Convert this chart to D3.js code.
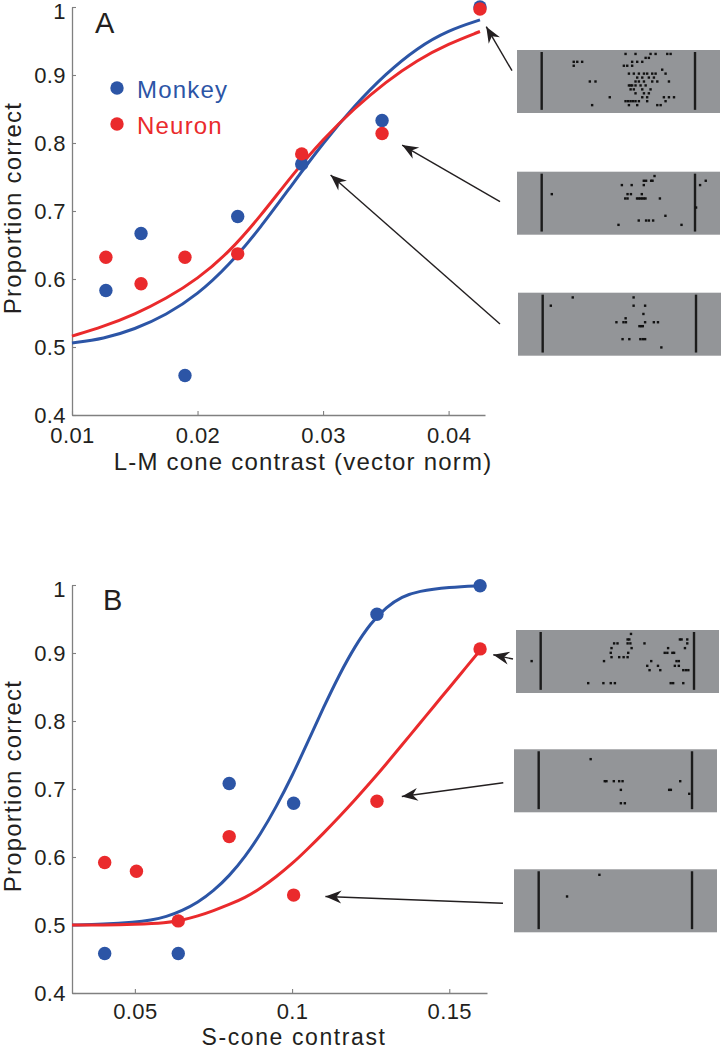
<!DOCTYPE html>
<html>
<head>
<meta charset="utf-8">
<script src="https://cdn.jsdelivr.net/npm/d3@7"></script>
<style>
  body { margin: 0; background: #fff; }
  svg { display: block; font-family: "Liberation Sans", Arial, Helvetica, sans-serif; }
</style>
</head>
<body>
<div class="canvas"></div>
<script>
// ---------- data ----------
// panel A : L-M cone contrast
const lmContrast = [0.0127, 0.0155, 0.0190, 0.0232, 0.0283, 0.0347, 0.0425];
const lmMonkey = [0.583, 0.667, 0.458, 0.692, 0.769, 0.833, 1.0];
const lmNeuron = [0.632, 0.593, 0.632, 0.637, 0.784, 0.814, 0.997];

// fitted curves
const lmFitX = [0.010, 0.0125, 0.015, 0.0175, 0.020, 0.0225, 0.025, 0.0275, 0.030, 0.0325, 0.035, 0.0375, 0.040, 0.0425];
const lmFitMonkey = [0.506, 0.512, 0.526, 0.547, 0.577, 0.620, 0.675, 0.738, 0.800, 0.855, 0.902, 0.940, 0.966, 0.981];
const lmFitNeuron = [0.516, 0.530, 0.548, 0.571, 0.600, 0.639, 0.692, 0.752, 0.806, 0.851, 0.890, 0.922, 0.946, 0.964];

// panel B : S-cone contrast
const sContrastMonkey = [0.0404, 0.0638, 0.0800, 0.1005, 0.1270, 0.1598];
const sMonkey = [0.458, 0.458, 0.708, 0.679, 0.957, 0.999];
const sContrastNeuron = [0.0404, 0.0505, 0.0638, 0.0800, 0.1005, 0.1270, 0.1598];
const sNeuron = [0.592, 0.579, 0.506, 0.630, 0.544, 0.682, 0.906];

const sFitX = [0.030, 0.040, 0.050, 0.055, 0.060, 0.065, 0.070, 0.075, 0.080, 0.085, 0.090, 0.095, 0.100, 0.105, 0.110, 0.115, 0.120, 0.125, 0.130, 0.135, 0.140, 0.150, 0.160];
const sFitMonkey = [0.500, 0.501, 0.504, 0.507, 0.512, 0.521, 0.533, 0.550, 0.572, 0.600, 0.634, 0.674, 0.719, 0.769, 0.820, 0.868, 0.910, 0.944, 0.968, 0.983, 0.991, 0.997, 0.999];
const sFitNeuronX = [0.030, 0.040, 0.050, 0.060, 0.065, 0.070, 0.075, 0.080, 0.085, 0.090, 0.095, 0.100, 0.105, 0.110, 0.115, 0.120, 0.125, 0.130, 0.135, 0.140, 0.145, 0.150, 0.155, 0.160];
const sFitNeuron = [0.500, 0.500, 0.501, 0.503, 0.507, 0.513, 0.521, 0.530, 0.540, 0.554, 0.571, 0.590, 0.612, 0.635, 0.659, 0.684, 0.710, 0.737, 0.765, 0.793, 0.821, 0.849, 0.877, 0.905];

// ticks
const yTicks = [0.4, 0.5, 0.6, 0.7, 0.8, 0.9, 1];
const yTickLabels = ["0.4", "0.5", "0.6", "0.7", "0.8", "0.9", "1"];
const lmTicks = [0.01, 0.02, 0.03, 0.04];
const lmTickLabels = ["0.01", "0.02", "0.03", "0.04"];
const sTicks = [0.05, 0.1, 0.15];
const sTickLabels = ["0.05", "0.1", "0.15"];

const legendLabels = ["Monkey", "Neuron"];

// arrow tips (data coords of each panel)
const lmArrowTips = [[0.0430, 0.971], [0.0363, 0.797], [0.0306, 0.753]];
const sArrowTips = [[0.1640, 0.8975], [0.1349, 0.689], [0.1106, 0.542]];

// spike rasters: [time (0 = first bar, 1 = second bar), trial]
const rasterA1 = [
  [0.547,1],[0.612,1],[0.710,1],[0.743,1],[0.819,1],[0.841,1],
  [0.678,2],[0.699,2],
  [0.209,3],[0.232,3],[0.264,3],[0.590,3],[0.623,3],[0.656,3],
  [0.209,4],[0.536,4],[0.558,4],[0.590,4],
  [0.786,5],
  [0.569,6],[0.601,6],[0.634,6],[0.667,6],[0.688,6],[0.721,6],[0.743,6],[0.808,6],
  [0.623,7],[0.656,7],[0.699,7],[0.732,7],
  [0.314,8],[0.351,8],[0.612,8],[0.634,8],[0.667,8],[0.721,8],[0.754,8],[0.830,8],
  [0.569,9],[0.580,9],[0.590,9],[0.612,9],[0.645,9],[0.678,9],
  [0.580,10],[0.601,10],[0.656,10],[0.710,10],
  [0.612,11],[0.667,11],[0.699,11],
  [0.444,12],[0.656,12],[0.688,12],[0.797,12],[0.830,12],[0.863,12],
  [0.547,13],[0.564,13],[0.580,13],[0.596,13],[0.612,13],[0.634,13],[0.688,13],[0.808,13],
  [0.329,14],[0.569,14],[0.623,14],[0.754,14],[0.776,14]
];
const rasterA2 = [
  [0.736,1.1],
  [0.666,2.3],[0.681,2.3],[0.714,2.3],[0.723,2.3],[1.070,2.3],
  [0.523,3.4],[0.587,3.4],[0.666,3.4],[1.033,3.4],
  [0.066,5.7],[0.560,5.7],[0.582,5.7],[0.653,5.7],
  [0.545,6.8],[0.560,6.8],[0.622,6.8],[0.633,6.8],[0.644,6.8],[0.655,6.8],[0.666,6.8],[0.677,6.8],[0.771,6.8],
  [1.007,9.1],
  [0.807,11.2],
  [0.633,12.4],[0.681,12.4],[0.699,12.4],[0.727,12.4],
  [0.501,13.5],[0.912,13.5]
];
const rasterA3 = [
  [0.196,1.2],[0.593,1.2],
  [0.053,3.3],[0.593,3.3],[0.668,3.3],
  [0.657,5.4],
  [0.541,6.5],
  [0.481,7.5],[0.527,7.5],[0.543,7.5],[0.668,7.5],[0.725,7.5],[0.752,7.5],
  [0.631,8.5],[0.642,8.5],[0.653,8.5],
  [0.521,11.8],[0.565,11.8],[0.637,11.8],[0.653,11.8],[0.668,11.8],
  [0.774,13.9]
];
const rasterB1 = [
  [0.589,1.0],
  [0.567,2.4],[0.578,2.4],[0.908,2.4],[0.919,2.4],[0.956,2.4],
  [0.479,3.4],[0.501,3.4],[0.567,3.4],[0.585,3.4],[0.677,3.4],[0.956,3.4],
  [0.462,4.6],[0.593,4.6],[0.831,4.6],[0.941,4.6],
  [0.457,5.8],[0.571,5.8],[0.809,5.8],[0.826,5.8],[0.859,5.8],[0.870,5.8],
  [0.462,6.9],[0.512,6.9],[0.541,6.9],[0.567,6.9],
  [-0.059,7.9],[0.413,7.9],[0.721,7.9],[0.886,7.9],[0.901,7.9],
  [0.695,9.1],[0.765,9.1],[0.875,9.1],[0.901,9.1],
  [0.710,10.2],[0.780,10.2],[0.930,10.2],[0.947,10.2],[0.963,10.2],
  [0.310,13.5],[0.409,13.5],[0.457,13.5],[0.484,13.5],[0.848,13.5],[0.864,13.5],[0.930,13.5]
];
const rasterB2 = [
  [0.339,2.5],
  [0.431,8.1],[0.442,8.1],[0.490,8.1],[0.525,8.1],[0.547,8.1],[0.923,8.1],
  [0.536,10.3],[0.851,10.3],[0.862,10.3],
  [0.982,11.3],
  [0.536,13.7],[0.562,13.7]
];
const rasterB3 = [
  [0.396,1.4],
  [0.185,6.9]
];

// ---------- layout ----------
const W = 721, H = 1050;
const blue = "#2c55a6", red = "#ea2a2c", ink = "#231f20", axisGray = "#808080";

const canvas = d3.select(".canvas");
const svg = canvas.append("svg").attr("width", W).attr("height", H);
svg.append("rect").attr("width", W).attr("height", H).attr("fill", "#fff");

const defs = svg.append("defs");
defs.append("marker")
  .attr("id", "head")
  .attr("viewBox", "-17 -8 18 16")
  .attr("refX", 0).attr("refY", 0)
  .attr("markerWidth", 18).attr("markerHeight", 16)
  .attr("markerUnits", "userSpaceOnUse")
  .attr("orient", "auto")
  .append("path")
  .attr("d", "M0,0 L-16,-6.5 L-11,0 L-16,6.5 Z")
  .attr("fill", ink);

const xA = d3.scaleLinear().domain([0.01, 0.0429]).range([72, 485]);
const yA = d3.scaleLinear().domain([0.4, 1]).range([415, 7]);
const xB = d3.scaleLinear().domain([0.03, 0.162]).range([72, 487]);
const yB = d3.scaleLinear().domain([0.4, 1]).range([993, 585]);

function drawAxes(x, y, ticks, tickLabels, pad) {
  const gx = svg.append("g")
    .attr("transform", `translate(0,${y.range()[0]})`)
    .call(d3.axisBottom(x).tickValues(ticks).tickFormat((d, i) => tickLabels[i])
      .tickSize(-4).tickSizeOuter(0).tickPadding(pad));
  const gy = svg.append("g")
    .attr("transform", `translate(${x.range()[0]},0)`)
    .call(d3.axisLeft(y).tickValues(yTicks).tickFormat((d, i) => yTickLabels[i])
      .tickSize(-4).tickSizeOuter(0).tickPadding(6));
  [gx, gy].forEach(g => {
    g.select(".domain").attr("stroke", axisGray).attr("stroke-width", 1.3);
    g.selectAll(".tick line").attr("stroke", axisGray).attr("stroke-width", 1.1);
    g.selectAll(".tick text")
      .attr("fill", ink)
      .style("font-size", "22px")
      .style("font-family", "'Liberation Sans', Arial, sans-serif")
      .style("letter-spacing", "0.4px");
  });
  // the "1" sits a little low in the original
  gy.selectAll(".tick text").filter(d => d === 1).attr("y", 4);
}

function drawCurve(x, y, xs, ys, color) {
  const line = d3.line().x(d => x(d[0])).y(d => y(d[1])).curve(d3.curveBasis);
  svg.append("path")
    .attr("d", line(xs.map((v, i) => [v, ys[i]])))
    .attr("fill", "none")
    .attr("stroke", color)
    .attr("stroke-width", 3);
}

function drawDots(x, y, xs, ys, color) {
  svg.append("g").selectAll("circle")
    .data(xs.map((v, i) => [v, ys[i]]))
    .join("circle")
    .attr("cx", d => x(d[0]))
    .attr("cy", d => y(d[1]))
    .attr("r", 6.7)
    .attr("fill", color);
}

function label(txt, px, py, size, rotate, color) {
  const t = svg.append("text")
    .attr("transform", `translate(${px},${py})` + (rotate ? " rotate(-90)" : ""))
    .attr("fill", color || ink)
    .style("font-size", size + "px")
    .style("letter-spacing", "1.2px")
    .text(txt);
  return t;
}

// ---------- panel A ----------
drawAxes(xA, yA, lmTicks, lmTickLabels, 12);
drawCurve(xA, yA, lmFitX, lmFitMonkey, blue);
drawCurve(xA, yA, lmFitX, lmFitNeuron, red);
drawDots(xA, yA, lmContrast, lmMonkey, blue);
drawDots(xA, yA, lmContrast, lmNeuron, red);

svg.append("text").attr("x", 95).attr("y", 33).attr("fill", ink)
  .style("font-size", "29px").text("A");

label("Proportion correct", 21, 208, 24, true).attr("text-anchor", "middle");
label("L-M cone contrast (vector norm)", 303, 470, 24).attr("text-anchor", "middle");

// legend
[blue, red].forEach((c, i) => {
  svg.append("circle").attr("cx", 117).attr("cy", 88 + i * 36).attr("r", 6.7).attr("fill", c);
  label(legendLabels[i], 137, 98 + i * 35.5, 24, false, c);
});

// ---------- panel B ----------
drawAxes(xB, yB, sTicks, sTickLabels, 10);
drawCurve(xB, yB, sFitX, sFitMonkey, blue);
drawCurve(xB, yB, sFitNeuronX, sFitNeuron, red);
drawDots(xB, yB, sContrastMonkey, sMonkey, blue);
drawDots(xB, yB, sContrastNeuron, sNeuron, red);

svg.append("text").attr("x", 103).attr("y", 610).attr("fill", ink)
  .style("font-size", "29px").text("B");

label("Proportion correct", 21, 786, 24, true).attr("text-anchor", "middle");
label("S-cone contrast", 294, 1045, 23).attr("text-anchor", "middle")
  .style("letter-spacing", "1.6px");

// ---------- raster insets + arrows ----------
const insetW = 203, insetH = 63;
const tScale = d3.scaleLinear().domain([-0.161, 1.163]).range([0, insetW]);
const trialScale = d3.scaleLinear().domain([0, 16]).range([0, insetH]);

const insets = [
  { x: 517, y: 50,    spikes: rasterA1, tip: lmArrowTips[0], sx: xA, sy: yA, dx: -5,  dy: 20.7 },
  { x: 517, y: 171.7, spikes: rasterA2, tip: lmArrowTips[1], sx: xA, sy: yA, dx: -17, dy: 30 },
  { x: 518, y: 292.7, spikes: rasterA3, tip: lmArrowTips[2], sx: xA, sy: yA, dx: -18, dy: 31.3 },
  { x: 516, y: 630,   spikes: rasterB1, tip: sArrowTips[0],  sx: xB, sy: yB, dx: -3,  dy: 29 },
  { x: 514, y: 749.3, spikes: rasterB2, tip: sArrowTips[1],  sx: xB, sy: yB, dx: -10.7, dy: 33.4 },
  { x: 514, y: 869.3, spikes: rasterB3, tip: sArrowTips[2],  sx: xB, sy: yB, dx: -11, dy: 34 }
];

insets.forEach(inset => {
  const g = svg.append("g").attr("transform", `translate(${inset.x},${inset.y})`);
  g.append("rect").attr("width", insetW).attr("height", insetH).attr("fill", "#939598");
  [0, 1].forEach(t => {
    g.append("line")
      .attr("x1", tScale(t)).attr("x2", tScale(t))
      .attr("y1", trialScale(0.5)).attr("y2", trialScale(15.2))
      .attr("stroke", "#1b1b1b").attr("stroke-width", 2.4);
  });
  g.selectAll("rect.spike")
    .data(inset.spikes)
    .join("rect")
    .attr("class", "spike")
    .attr("x", d => tScale(d[0]) - 1.2)
    .attr("y", d => trialScale(d[1]) - 1.2)
    .attr("width", 2.4).attr("height", 2.4)
    .attr("fill", "#111");

  svg.append("line")
    .attr("x1", inset.x + inset.dx).attr("y1", inset.y + inset.dy)
    .attr("x2", inset.sx(inset.tip[0])).attr("y2", inset.sy(inset.tip[1]))
    .attr("stroke", ink).attr("stroke-width", 1.4)
    .attr("marker-end", "url(#head)");
});
</script>
</body>
</html>
